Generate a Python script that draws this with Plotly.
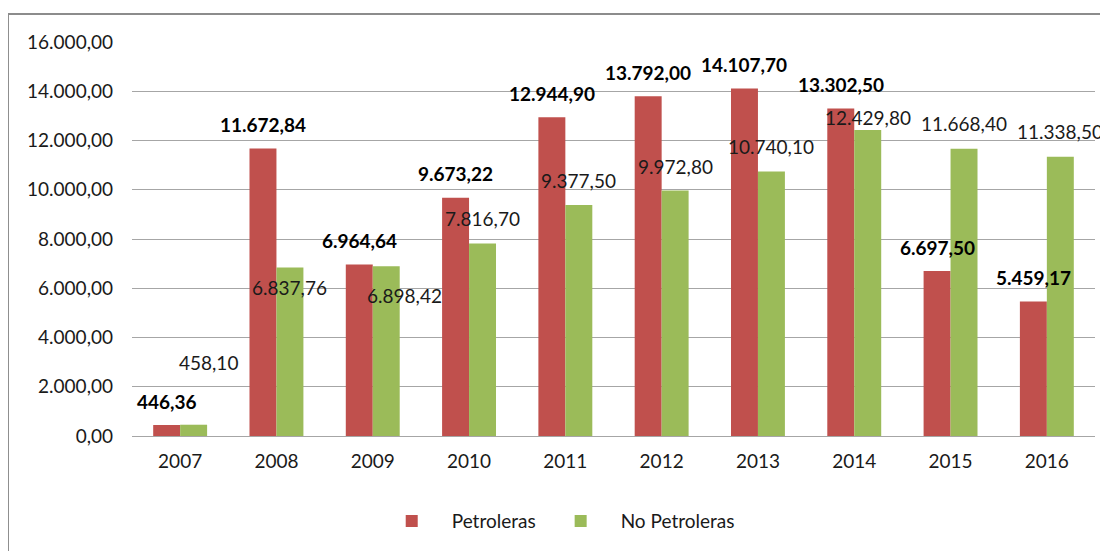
import plotly.graph_objects as go

# Data
YEARS = ["2007", "2008", "2009", "2010", "2011", "2012", "2013", "2014", "2015", "2016"]
PETROLERAS = [446.36, 11672.84, 6964.64, 9673.22, 12944.90, 13792.00, 14107.70, 13302.50, 6697.50, 5459.17]
NO_PETROLERAS = [458.10, 6837.76, 6898.42, 7816.70, 9377.50, 9972.80, 10740.10, 12429.80, 11668.40, 11338.50]
Y_TICKS = [0, 2000, 4000, 6000, 8000, 10000, 12000, 14000, 16000]

COLORS = {
    "petro": "#C0504D",
    "nopetro": "#9BBB59",
    "grid": "#A6A6A6",
    "border": "#8C8C8C",
    "text": "#1A1A1A",
}
FONT = "Lato, 'Open Sans', sans-serif"
BAR_HALF = 13.5  # half of one bar width in px

# label offsets (dx, dy) in px for the green series where Excel moved them
NOPETRO_SHIFT = [(15, 62), (0, -20), (18, -29), (0, 25), (0, 25),
                 (0, 24), (0, 25), (0, 12), (0, 25), (0, 25)]


def fmt(v):
    s = f"{v:,.2f}"
    return s.replace(",", "X").replace(".", ",").replace("X", ".")


fig = go.Figure()
fig.add_trace(go.Bar(name="Petroleras", x=YEARS, y=PETROLERAS,
                     marker=dict(color=COLORS["petro"], line_width=0)))
fig.add_trace(go.Bar(name="No Petroleras", x=YEARS, y=NO_PETROLERAS,
                     marker=dict(color=COLORS["nopetro"], line_width=0)))

# annotations on a category axis: use the category index (year strings look numeric)
for i, v in enumerate(PETROLERAS):
    fig.add_annotation(x=i, y=v, text=f"<b>{fmt(v)}</b>", showarrow=False,
                       xshift=-BAR_HALF, yshift=24, yanchor="middle",
                       font=dict(family=FONT, size=19, color="#000"))

for i, (v, (dx, dy)) in enumerate(zip(NO_PETROLERAS, NOPETRO_SHIFT)):
    fig.add_annotation(x=i, y=v, text=fmt(v), showarrow=False,
                       xshift=BAR_HALF + dx, yshift=dy, yanchor="middle",
                       font=dict(family=FONT, size=19, color=COLORS["text"]))

# chart frame
fig.add_shape(type="rect", xref="paper", yref="paper",
              x0=-0.1288, x1=1.1, y0=-0.4, y1=1.071,
              line=dict(color=COLORS["border"], width=2), layer="below")

# page body has an 8px margin, so margins are trimmed by 8px
fig.update_layout(
    width=1108, height=551,
    paper_bgcolor="white", plot_bgcolor="white",
    separators=",.",
    barmode="group", bargap=0.44, bargroupgap=0,
    margin=dict(l=124, r=21, t=34, b=123),
    font=dict(family=FONT, size=19, color=COLORS["text"]),
    showlegend=True,
    legend=dict(orientation="h", x=0.44, xanchor="center", y=-0.216, yanchor="middle",
                font=dict(size=19), itemwidth=70, traceorder="normal"),
)
fig.update_xaxes(type="category", range=[-0.5, 9.5], showgrid=False, showline=True,
                 linecolor=COLORS["grid"], linewidth=1, ticks="", ticklabelstandoff=8)
fig.update_yaxes(range=[0, 16000], tickvals=Y_TICKS, tickformat=",.2f",
                 showgrid=True, gridcolor=COLORS["grid"], gridwidth=1,
                 zeroline=False, showline=False, ticks="", ticklabelstandoff=18)

fig.write_html("out.html")
